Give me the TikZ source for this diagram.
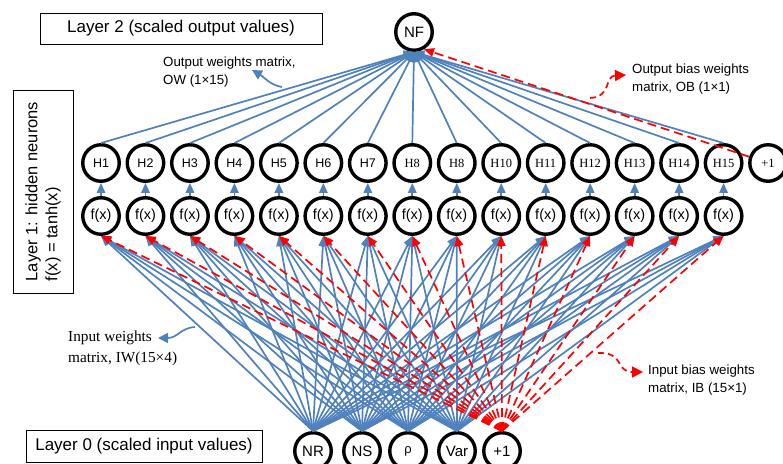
\documentclass[tikz,border=0pt]{standalone}
\usepackage{fontspec}
\setmainfont{Liberation Sans}
\newfontfamily\tnr{Liberation Serif}
\usetikzlibrary{arrows.meta}
\definecolor{nnblue}{HTML}{4F81BD}
\definecolor{nnred}{HTML}{FF0000}
\begin{document}
\begin{tikzpicture}[x=1pt,y=-1pt,
  neuron/.style={circle,draw=black,line width=3.4pt,minimum size=36.5pt,inner sep=0pt,fill=white},
  wblue/.style={draw=nnblue,line width=1.7pt,-{Triangle[length=10pt,width=8.5pt]}},
  wred/.style={draw=nnred,line width=1.7pt,dash pattern=on 9pt off 5pt,-{Triangle[length=10pt,width=8.5pt]}},
  annoblue/.style={draw=nnblue,line width=1.7pt,-{Triangle[length=10pt,width=10pt]}},
  annored/.style={draw=nnred,line width=1.7pt,dash pattern=on 6pt off 4pt,-{Triangle[length=11pt,width=11pt]}},
  layerbox/.style={draw=black,line width=1pt,inner sep=0pt},
  sfH/.style={font=\fontsize{12.5}{14}\selectfont},
  rmH/.style={font=\tnr\fontsize{12.5}{14}\selectfont},
  fxfont/.style={font=\fontsize{14.5}{16}\selectfont},
  infont/.style={font=\fontsize{15}{17}\selectfont},
  annosf/.style={anchor=west,align=left,inner sep=0pt,font=\fontsize{13.3}{18.5}\selectfont},
  annorm/.style={anchor=west,align=left,inner sep=0pt,font=\tnr\fontsize{15.3}{21}\selectfont}
]
\useasboundingbox (0,0) rectangle (783,463);

% layer boxes
\node[layerbox,minimum width=282pt,minimum height=31pt,font=\fontsize{17}{20}\selectfont] (L2) at (181,28.5) {Layer 2 (scaled output values)};
\node[layerbox,minimum width=236pt,minimum height=32pt,font=\fontsize{17}{20}\selectfont] (L0) at (144,446.5) {Layer 0 (scaled input values)};
\node[layerbox,minimum width=203pt,minimum height=60pt,rotate=90,align=left,font=\fontsize{16.5}{20}\selectfont] (L1) at (43,191.5) {Layer 1: hidden neurons\\f(x) = tanh(x)};

% output neuron
\node[neuron,font=\fontsize{15}{17}\selectfont] (NF) at (414,32) {NF};

% hidden neurons
\foreach \i/\lab in {1/H1,2/H2,3/H3,4/H4,5/H5,6/H6,7/H7}{
  \pgfmathsetmacro\xx{101+(\i-1)*44.47}
  \node[neuron,sfH] (H\i) at (\xx,163) {\lab};
}
\foreach \i/\lab in {8/H8,9/H8,10/H10,11/H11,12/H12,13/H13,14/H14,15/H15,16/+1}{
  \pgfmathsetmacro\xx{101+(\i-1)*44.47}
  \node[neuron,rmH] (H\i) at (\xx,163) {\lab};
}
\foreach \i in {1,...,15}{
  \pgfmathsetmacro\xx{101+(\i-1)*44.47}
  \node[neuron,fxfont] (F\i) at (\xx,216) {f(x)};
}

% input neurons
\node[neuron,infont] (NR) at (313,451) {NR};
\node[neuron,infont] (NS) at (362,451) {NS};
\node[neuron,font=\fontsize{13}{15}\selectfont] (RHO) at (408,451) {ρ};
\node[neuron,infont] (VAR) at (457,451) {Var};
\node[neuron,infont] (B0) at (502,451) {+1};

% input weights
\foreach \s in {NR,NS,RHO,VAR}{
  \foreach \i in {1,...,15}{
    \draw[wblue] (\s.north) -- (F\i.south);
  }
}
% input bias
\foreach \i in {1,...,15}{
  \draw[wred] (B0.north) -- (F\i.south);
}
% activation
\foreach \i in {1,...,15}{
  \draw[wblue] (F\i.north) -- (H\i.south);
}
% output weights
\foreach \i in {1,...,15}{
  \draw[wblue] (H\i.north) -- (NF.south);
}
\draw[wred] (H16) -- (NF.-60);

% annotations
\node[annosf] (OWt) at (163,72) {Output weights matrix,\\OW (1×15)};
\node[annosf] (OBt) at (632,79) {Output bias weights\\matrix, OB (1×1)};
\node[annorm] (IWt) at (68,348) {Input weights\\matrix, IW(15×4)};
\node[annosf] (IBt) at (648,380) {Input bias weights\\matrix, IB (15×1)};

\coordinate (owA) at (282,87);
\coordinate (owB) at (252,70);
\draw[annoblue] (owA) .. controls (270,85) and (264,77) .. (owB);
\coordinate (obA) at (590,98);
\coordinate (obB) at (626,75);
\draw[annored] (obA) .. controls (612,97) and (604,76) .. (obB);
\coordinate (iwA) at (195,327);
\coordinate (iwB) at (158,338);
\draw[annoblue] (iwA) .. controls (180,328) and (178,338) .. (iwB);
\coordinate (ibA) at (598,353);
\coordinate (ibB) at (643,372);
\draw[annored] (ibA) .. controls (625,352) and (615,372) .. (ibB);
\end{tikzpicture}
\end{document}
